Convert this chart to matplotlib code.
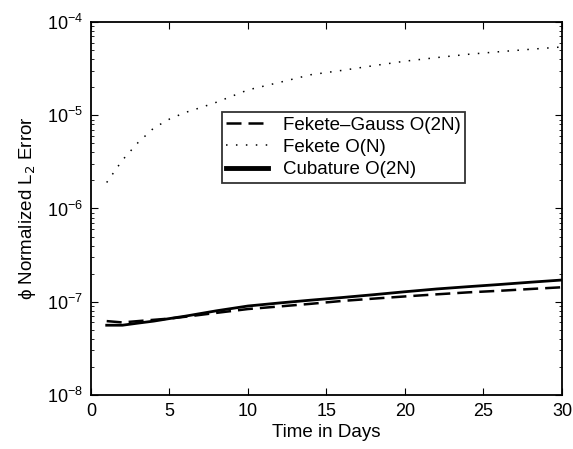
import matplotlib
matplotlib.use("Agg")
import matplotlib.pyplot as plt

plt.rcParams['font.family'] = ['Liberation Sans', 'DejaVu Sans']

fg_x = [1, 2, 3, 4, 5, 6, 8, 10, 12, 14, 16, 18, 20, 22, 24, 26, 28, 30]
fg_y = [6.2e-8, 6.0e-8, 6.2e-8, 6.4e-8, 6.6e-8, 6.9e-8, 7.6e-8, 8.35e-8, 8.9e-8, 9.5e-8,
        1.02e-7, 1.08e-7, 1.14e-7, 1.2e-7, 1.26e-7, 1.31e-7, 1.37e-7, 1.43e-7]

fk_x = [1, 2, 3, 4, 5, 6, 7, 8, 10, 12, 14, 16, 18, 20, 22, 24, 26, 28, 30]
fk_y = [1.9e-6, 3.3e-6, 5.1e-6, 7.3e-6, 9.1e-6, 1.07e-5, 1.21e-5, 1.38e-5, 1.87e-5, 2.25e-5,
        2.72e-5, 3.03e-5, 3.4e-5, 3.8e-5, 4.15e-5, 4.5e-5, 4.8e-5, 5.1e-5, 5.4e-5]

cu_x = [1, 2, 3, 4, 5, 6, 8, 10, 12, 14, 16, 18, 20, 22, 24, 26, 28, 30]
cu_y = [5.6e-8, 5.6e-8, 5.9e-8, 6.2e-8, 6.6e-8, 7.0e-8, 8.0e-8, 9.0e-8, 9.7e-8, 1.04e-7,
        1.11e-7, 1.19e-7, 1.28e-7, 1.37e-7, 1.45e-7, 1.53e-7, 1.62e-7, 1.71e-7]

fig = plt.figure(figsize=(5.73, 4.49), dpi=100)
ax = fig.add_axes([0.1588, 0.1203, 0.822, 0.8307])

ax.semilogy(fg_x, fg_y, color='black', lw=1.8, dashes=(6, 2.8), label='Fekete\u2013Gauss O(2N)')
ax.semilogy(fk_x, fk_y, color='black', lw=1.1, dashes=(1, 5.5), label='Fekete O(N)')
ax.semilogy(cu_x, cu_y, color='black', lw=2.0, label='Cubature O(2N)')

ax.set_xlim(0, 30)
ax.set_ylim(1e-8, 1e-4)
ax.set_xticks([0, 5, 10, 15, 20, 25, 30])
ax.tick_params(which='both', direction='in', top=True, right=True, labelsize=13, pad=6)
ax.tick_params(which='major', length=5)
ax.tick_params(which='minor', length=2.5)
for s in ax.spines.values():
    s.set_linewidth(1.3)

ax.set_xlabel('Time in Days', fontsize=13.5, labelpad=3)
ax.set_ylabel('\u03d5 Normalized L$_2$ Error', fontsize=13.5, labelpad=6)

leg = ax.legend(loc='upper left', bbox_to_anchor=(0.2775, 0.7595), fontsize=13.5,
                frameon=True, fancybox=False, edgecolor='black', handlelength=2.2,
                borderpad=0.25, labelspacing=0.28, handletextpad=0.8, borderaxespad=0)
leg.get_frame().set_linewidth(1.3)
leg.get_lines()[2].set_linewidth(3.5)

fig.savefig('out.png', dpi=100)
